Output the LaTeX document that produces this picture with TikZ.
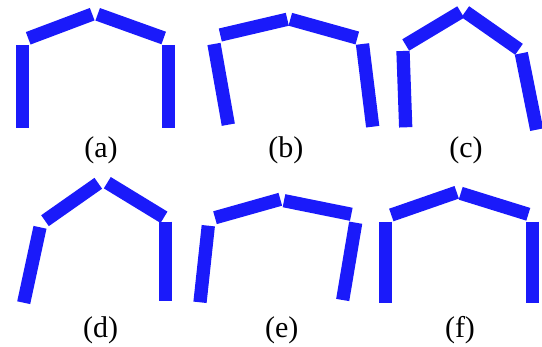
\documentclass[tikz,border=0pt]{standalone}
\usepackage{fontspec}
\setmainfont{Liberation Serif}
\usepackage{tikz}
\definecolor{frameblue}{HTML}{1A1AFA}
\tikzset{
    beam/.style={draw=frameblue, line width=13.3pt},
    lbl/.style={anchor=base, inner sep=0pt, font=\fontsize{30}{32}\selectfont}
}

\begin{document}
\begin{tikzpicture}[x=1pt, y=-1pt]
    \useasboundingbox (0,0) rectangle (542,347);

    % (a)
    \draw[beam] (22.3,45) -- (22.3,127.7);
    \draw[beam] (28.2,38.3) -- (92.2,14.2);
    \draw[beam] (97.7,14.3) -- (163.7,38);
    \draw[beam] (168.7,45) -- (168.7,127.7);
    \node[lbl] (la) at (101,157.5) {(a)};

    % (b)
    \draw[beam] (214,44) -- (228.3,124.7);
    \draw[beam] (220.3,35) -- (287.3,19.3);
    \draw[beam] (290.3,19.3) -- (357.3,38);
    \draw[beam] (362.5,44) -- (372.7,126.7);
    \node[lbl] (lb) at (285.8,157.5) {(b)};

    % (c)
    \draw[beam] (403,51) -- (405.7,127.3);
    \draw[beam] (405.7,45) -- (460.7,12);
    \draw[beam] (465.3,11.7) -- (519,49.3);
    \draw[beam] (521.3,53.3) -- (536.7,129.7);
    \node[lbl] (lc) at (466,157.5) {(c)};

    % (d)
    \draw[beam] (40,227.3) -- (23.7,302.7);
    \draw[beam] (45,220.7) -- (98.3,183.3);
    \draw[beam] (107.3,182.7) -- (164,217.3);
    \draw[beam] (165.7,221.7) -- (165.7,301);
    \node[lbl] (ld) at (100.5,337.5) {(d)};

    % (e)
    \draw[beam] (208.3,225.7) -- (200,302.3);
    \draw[beam] (215,217.7) -- (280.3,199.3);
    \draw[beam] (284,200.7) -- (351.3,214.3);
    \draw[beam] (355.7,222.7) -- (342.7,300);
    \node[lbl] (le) at (281.7,337.5) {(e)};

    % (f)
    \draw[beam] (385.8,221.7) -- (385.8,302.7);
    \draw[beam] (391.3,215) -- (456.7,192.3);
    \draw[beam] (460.7,193.3) -- (528.3,214.3);
    \draw[beam] (532.8,221.7) -- (532.8,302.7);
    \node[lbl] (lf) at (460,337.5) {(f)};
\end{tikzpicture}
\end{document}
